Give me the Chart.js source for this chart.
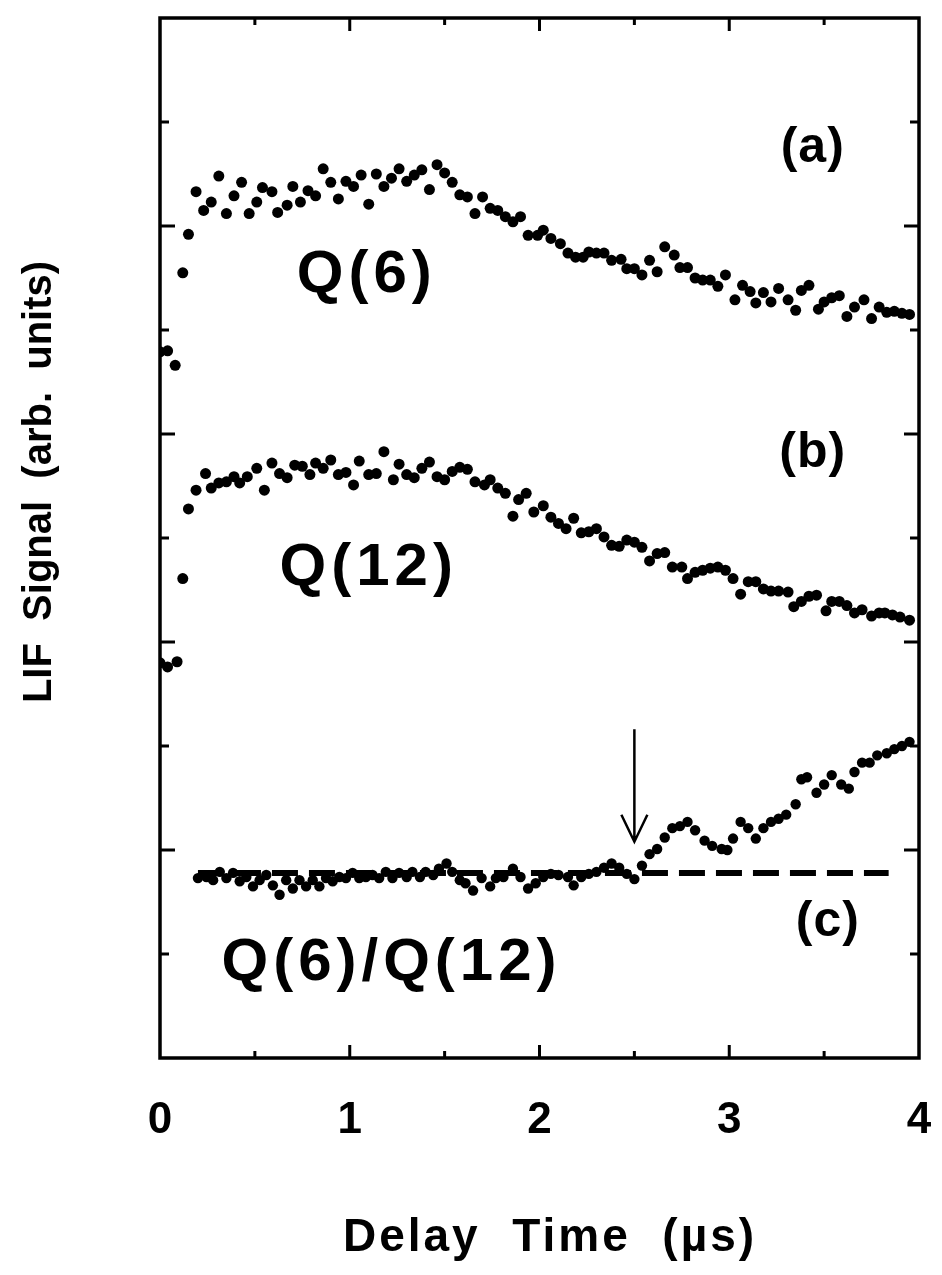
<!DOCTYPE html>
<html>
<head>
<meta charset="utf-8">
<script src="https://cdn.jsdelivr.net/npm/chart.js@4.4.1/dist/chart.umd.min.js"></script>
<style>
  html, body { margin: 0; padding: 0; background: #ffffff; }
  #wrap { width: 942px; height: 1275px; position: relative; }
</style>
</head>
<body>
<div id="wrap"><canvas id="c" width="942" height="1275"></canvas></div>
<script>
// ---------------- DATA ----------------
const tickLabels = ['0', '1', '2', '3', '4'];

// (a) Q(6)
const timeA = [
  0.00,0.04,0.08,0.12,0.15,0.19,0.23,0.27,0.31,0.35,
  0.39,0.43,0.47,0.51,0.54,0.59,0.62,0.67,0.70,0.74,
  0.78,0.82,0.86,0.90,0.94,0.98,1.02,1.06,1.10,1.14,
  1.18,1.22,1.26,1.30,1.34,1.38,1.42,1.46,1.50,1.54,
  1.58,1.62,1.66,1.70,1.74,1.78,1.82,1.86,1.90,1.94,
  1.99,2.02,2.06,2.11,2.15,2.19,2.23,2.26,2.30,2.34,
  2.38,2.43,2.46,2.50,2.54,2.58,2.62,2.66,2.71,2.74,
  2.78,2.82,2.86,2.90,2.94,2.98,3.03,3.07,3.11,3.14,
  3.18,3.22,3.26,3.31,3.35,3.38,3.42,3.47,3.50,3.54,
  3.58,3.62,3.66,3.71,3.75,3.79,3.83,3.87,3.91,3.95
];
const signalA = [
  6.79,6.80,6.66,7.55,7.92,8.33,8.15,8.23,8.48,8.12,
  8.29,8.42,8.12,8.23,8.37,8.33,8.13,8.20,8.38,8.23,
  8.34,8.29,8.55,8.42,8.26,8.43,8.38,8.49,8.21,8.50,
  8.38,8.46,8.55,8.43,8.49,8.54,8.35,8.59,8.51,8.42,
  8.30,8.28,8.12,8.28,8.17,8.15,8.09,8.04,8.09,7.91,
  7.91,7.96,7.88,7.83,7.74,7.70,7.70,7.75,7.74,7.74,
  7.67,7.68,7.59,7.59,7.53,7.67,7.56,7.80,7.72,7.60,
  7.60,7.50,7.48,7.48,7.42,7.53,7.29,7.43,7.37,7.26,
  7.36,7.27,7.40,7.29,7.19,7.38,7.43,7.20,7.27,7.31,
  7.33,7.13,7.22,7.29,7.11,7.22,7.17,7.18,7.16,7.15
];

// (b) Q(12)
const timeB = [
  0.00,0.04,0.09,0.12,0.15,0.19,0.24,0.27,0.31,0.35,
  0.39,0.42,0.46,0.51,0.55,0.59,0.63,0.67,0.71,0.75,
  0.79,0.82,0.86,0.90,0.94,0.98,1.02,1.05,1.10,1.14,
  1.18,1.23,1.26,1.30,1.34,1.38,1.42,1.46,1.50,1.54,
  1.58,1.62,1.66,1.71,1.74,1.78,1.82,1.86,1.89,1.93,
  1.97,2.02,2.06,2.10,2.14,2.18,2.22,2.26,2.30,2.34,
  2.38,2.42,2.46,2.50,2.54,2.58,2.62,2.66,2.70,2.75,
  2.78,2.82,2.86,2.90,2.94,2.98,3.02,3.06,3.10,3.14,
  3.18,3.22,3.26,3.31,3.34,3.38,3.42,3.46,3.51,3.54,
  3.58,3.62,3.66,3.70,3.75,3.79,3.82,3.86,3.90,3.95
];
const signalB = [
  3.80,3.76,3.81,4.61,5.28,5.46,5.62,5.48,5.53,5.54,
  5.59,5.53,5.59,5.67,5.46,5.72,5.62,5.58,5.70,5.69,
  5.61,5.72,5.67,5.75,5.61,5.63,5.51,5.74,5.61,5.62,
  5.83,5.56,5.71,5.61,5.58,5.67,5.73,5.59,5.56,5.64,
  5.68,5.66,5.54,5.51,5.56,5.48,5.43,5.21,5.37,5.43,
  5.25,5.31,5.20,5.14,5.09,5.19,5.05,5.06,5.09,5.01,
  4.93,4.92,4.98,4.96,4.91,4.78,4.85,4.86,4.72,4.72,
  4.61,4.67,4.69,4.71,4.72,4.69,4.61,4.46,4.58,4.58,
  4.51,4.49,4.49,4.48,4.34,4.39,4.44,4.45,4.30,4.39,
  4.39,4.35,4.28,4.31,4.25,4.28,4.28,4.26,4.24,4.21
];

// (c) Q(6)/Q(12)
const timeC = [
  0.20,0.245,0.28,0.315,0.35,0.385,0.42,0.455,0.49,0.525,
  0.56,0.595,0.63,0.665,0.70,0.735,0.77,0.805,0.84,0.875,
  0.91,0.945,0.98,1.015,1.05,1.085,1.12,1.155,1.19,1.225,
  1.26,1.30,1.33,1.37,1.40,1.44,1.47,1.51,1.54,1.58,
  1.61,1.65,1.695,1.74,1.77,1.81,1.86,1.90,1.94,1.98,
  2.02,2.06,2.10,2.15,2.18,2.22,2.26,2.30,2.34,2.38,
  2.42,2.46,2.50,2.54,2.58,2.62,2.66,2.70,2.74,2.78,
  2.82,2.87,2.91,2.96,2.99,3.02,3.06,3.10,3.14,3.18,
  3.22,3.26,3.30,3.35,3.38,3.41,3.46,3.50,3.54,3.59,
  3.63,3.66,3.70,3.74,3.78,3.83,3.87,3.91,3.95
];
const signalC = [
  1.73,1.74,1.71,1.79,1.73,1.78,1.70,1.74,1.65,1.71,
  1.76,1.66,1.57,1.71,1.63,1.71,1.65,1.71,1.65,1.73,
  1.70,1.74,1.73,1.78,1.73,1.74,1.76,1.73,1.79,1.73,
  1.78,1.74,1.79,1.74,1.79,1.76,1.82,1.87,1.79,1.71,
  1.68,1.61,1.73,1.65,1.73,1.74,1.82,1.74,1.63,1.68,
  1.74,1.77,1.76,1.74,1.66,1.74,1.77,1.79,1.83,1.87,
  1.83,1.77,1.72,1.85,1.96,2.01,2.12,2.21,2.23,2.27,
  2.19,2.09,2.04,2.01,2.00,2.11,2.27,2.21,2.11,2.21,
  2.27,2.30,2.34,2.44,2.68,2.70,2.55,2.63,2.72,2.63,
  2.59,2.75,2.84,2.84,2.91,2.93,2.97,3.00,3.04
];

// dashed reference level for (c)
const baselineX = [0.20, 3.84];
const baselineY = [1.78, 1.78];

// arrow marking onset
const arrowX = 2.50;
const arrowY = [3.16, 2.08];

// in-plot labels
const annotationTexts = ['(a)', 'Q(6)', '(b)', 'Q(12)', '(c)', 'Q(6)/Q(12)'];
const annotationX = [3.44, 1.09, 3.44, 1.10, 3.52, 1.22];
const annotationY = [8.75, 7.52, 5.82, 4.71, 1.31, 0.91];

const xTitle = 'Delay  Time  (\u00b5s)';
const yTitle = 'LIF  Signal  (arb.  units)';

// ---------------- CHART ----------------
const FONT = "'Liberation Sans', Arial, Helvetica, sans-serif";
const toPts = (xs, ys) => xs.map((x, i) => ({ x: x, y: ys[i] }));

const decorPlugin = {
  id: 'decor',
  afterDraw(chart) {
    const ctx = chart.ctx;
    const xs = chart.scales.x, ys = chart.scales.y;
    const { left, right, top, bottom } = chart.chartArea;
    ctx.save();
    ctx.strokeStyle = '#000';
    ctx.fillStyle = '#000';
    ctx.lineCap = 'butt';
    // frame
    ctx.lineWidth = 3.5;
    ctx.strokeRect(left, top, right - left, bottom - top);
    // x ticks (inward, bottom and top)
    ctx.lineWidth = 3;
    xs.ticks.forEach(t => {
      if (t.value <= xs.min || t.value >= xs.max) return;
      const px = xs.getPixelForValue(t.value);
      const len = Number.isInteger(t.value) ? 13 : 7;
      ctx.beginPath();
      ctx.moveTo(px, bottom); ctx.lineTo(px, bottom - len);
      ctx.moveTo(px, top); ctx.lineTo(px, top + len);
      ctx.stroke();
    });
    // y ticks (inward, left and right)
    ys.ticks.forEach(t => {
      if (t.value <= ys.min || t.value >= ys.max) return;
      const py = ys.getPixelForValue(t.value);
      const len = (Math.round(t.value) % 2 === 0) ? 15 : 9;
      ctx.beginPath();
      ctx.moveTo(left, py); ctx.lineTo(left + len, py);
      ctx.moveTo(right, py); ctx.lineTo(right - len, py);
      ctx.stroke();
    });
    // arrow
    const ax = xs.getPixelForValue(arrowX);
    const ay0 = ys.getPixelForValue(arrowY[0]);
    const ay1 = ys.getPixelForValue(arrowY[1]);
    ctx.lineWidth = 2.5;
    ctx.beginPath();
    ctx.moveTo(ax, ay0); ctx.lineTo(ax, ay1);
    ctx.moveTo(ax - 13, ay1 - 27); ctx.lineTo(ax, ay1); ctx.lineTo(ax + 13, ay1 - 27);
    ctx.stroke();
    // annotation labels
    ctx.textAlign = 'center';
    ctx.textBaseline = 'middle';
    annotationTexts.forEach((txt, i) => {
      const isQ = txt.charAt(0) === 'Q';
      ctx.font = isQ ? ('bold 60px ' + FONT) : ('bold 50px ' + FONT);
      if ('letterSpacing' in ctx) ctx.letterSpacing = isQ ? '5px' : '1px';
      ctx.fillText(txt, xs.getPixelForValue(annotationX[i]), ys.getPixelForValue(annotationY[i]));
    });
    // axis titles
    if ('letterSpacing' in ctx) ctx.letterSpacing = '3px';
    ctx.font = 'bold 46px ' + FONT;
    ctx.fillText(xTitle, 550, 1238);
    if ('letterSpacing' in ctx) ctx.letterSpacing = '0px';
    ctx.translate(40, 482);
    ctx.rotate(-Math.PI / 2);
    ctx.font = 'bold 40px ' + FONT;
    ctx.fillText(yTitle, 0, 0);
    ctx.restore();
  }
};

const dotStyle = (r) => ({
  showLine: false,
  pointRadius: r,
  pointHoverRadius: r,
  pointBackgroundColor: '#000',
  pointBorderColor: '#000',
  pointBorderWidth: 0,
  order: 0
});

new Chart(document.getElementById('c'), {
  type: 'scatter',
  data: {
    datasets: [
      Object.assign({ label: 'Q(6)', data: toPts(timeA, signalA) }, dotStyle(5.5)),
      Object.assign({ label: 'Q(12)', data: toPts(timeB, signalB) }, dotStyle(5.5)),
      Object.assign({ label: 'Q(6)/Q(12)', data: toPts(timeC, signalC) }, dotStyle(5.2)),
      {
        type: 'line',
        label: 'baseline',
        data: toPts(baselineX, baselineY),
        borderColor: '#000',
        borderWidth: 6,
        borderDash: [26, 11],
        pointRadius: 0,
        fill: false,
        order: 10
      }
    ]
  },
  options: {
    responsive: false,
    animation: false,
    devicePixelRatio: 1,
    layout: { padding: { left: 0, top: 18, right: 23, bottom: 0 } },
    plugins: { legend: { display: false }, tooltip: { enabled: false } },
    scales: {
      x: {
        type: 'linear',
        min: 0, max: 4,
        grid: { display: false, drawTicks: false },
        border: { display: false },
        ticks: {
          stepSize: 0.5,
          autoSkip: false,
          maxRotation: 0,
          padding: 36,
          color: '#000',
          font: { family: FONT, size: 44, weight: 'bold' },
          callback: (v) => Number.isInteger(v) ? tickLabels[v] : ''
        },
        afterFit: (s) => { s.height = 217; s.paddingLeft = 0; s.paddingRight = 0; }
      },
      y: {
        type: 'linear',
        min: 0, max: 10,
        grid: { display: false, drawTicks: false },
        border: { display: false },
        ticks: { stepSize: 1, display: false },
        afterFit: (s) => { s.width = 160; }
      }
    }
  },
  plugins: [decorPlugin]
});
</script>
</body>
</html>
